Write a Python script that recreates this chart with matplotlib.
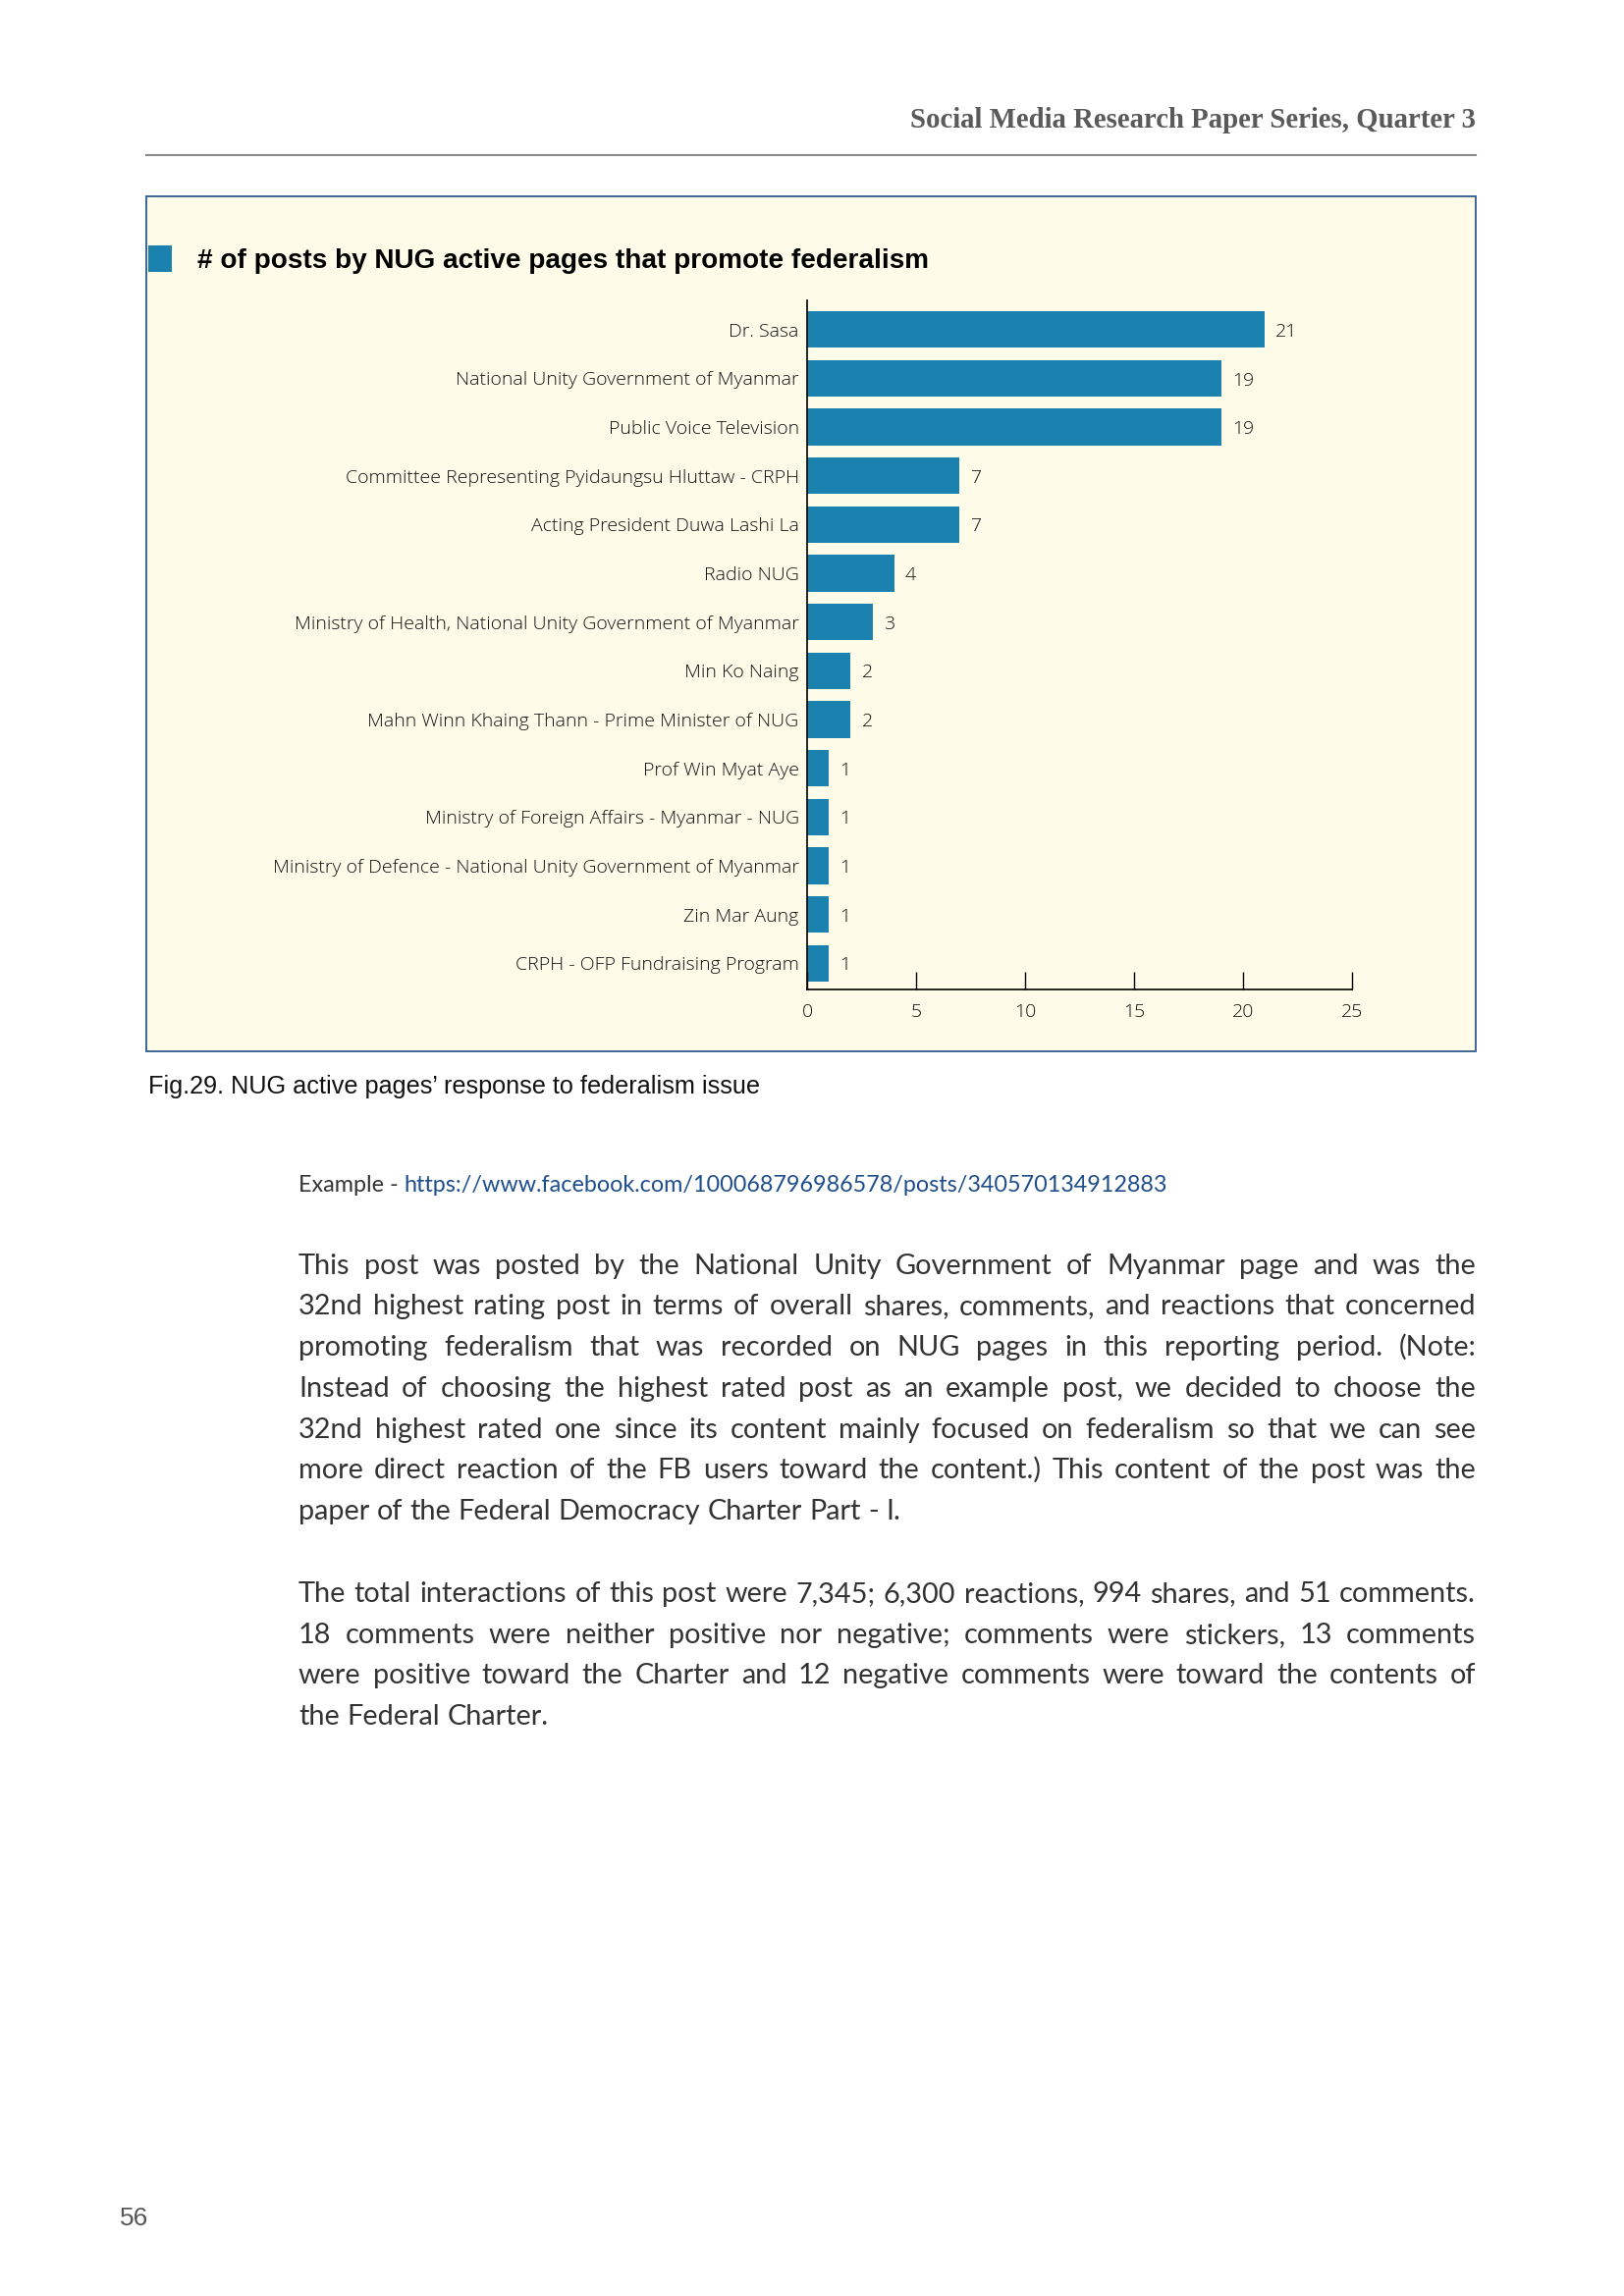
# Page with horizontal bar chart: posts by NUG active pages that promote federalism.
import numpy as np
import matplotlib.pyplot as plt
from matplotlib.patches import Rectangle

# Chart data.
pages = [
  "Dr. Sasa",
  "National Unity Government of Myanmar",
  "Public Voice Television",
  "Committee Representing Pyidaungsu Hluttaw - CRPH",
  "Acting President Duwa Lashi La",
  "Radio NUG",
  "Ministry of Health, National Unity Government of Myanmar",
  "Min Ko Naing",
  "Mahn Winn Khaing Thann - Prime Minister of NUG",
  "Prof Win Myat Aye",
  "Ministry of Foreign Affairs - Myanmar - NUG",
  "Ministry of Defence - National Unity Government of Myanmar",
  "Zin Mar Aung",
  "CRPH - OFP Fundraising Program",
]
posts = [21, 19, 19, 7, 7, 4, 3, 2, 2, 1, 1, 1, 1, 1]
xTicks = [0, 5, 10, 15, 20, 25]

# Page texts.
headerText = "Social Media Research Paper Series, Quarter 3"
chartTitle = "# of posts by NUG active pages that promote federalism"
captionText = "Fig.29. NUG active pages\u2019 response to federalism issue"
exampleLabel = "Example - "
exampleUrl = "https://www.facebook.com/100068796986578/posts/340570134912883"
paragraph1 = [
  "This post was posted by the National Unity Government of Myanmar page and was the",
  "32nd highest rating post in terms of overall shares, comments, and reactions that concerned",
  "promoting federalism that was recorded on NUG pages in this reporting period. (Note:",
  "Instead of choosing the highest rated post as an example post, we decided to choose the",
  "32nd highest rated one since its content mainly focused on federalism so that we can see",
  "more direct reaction of the FB users toward the content.) This content of the post was the",
  "paper of the Federal Democracy Charter Part - I.",
]
paragraph2 = [
  "The total interactions of this post were 7,345; 6,300 reactions, 994 shares, and 51 comments.",
  "18 comments were neither positive nor negative; comments were stickers, 13 comments",
  "were positive toward the Charter and 12 negative comments were toward the contents of",
  "the Federal Charter.",
]
pageNumber = "56"

W, H = 1654, 2339  # Page size in pixels.
fig = plt.figure(figsize=(W / 100, H / 100), dpi=100)
fig.patch.set_facecolor("white")
renderer = fig.canvas.get_renderer()


def fx(x):
  return x / W


def fy(y):
  return 1 - y / H


def TextWidth(s, **kw):
  t = fig.text(0, 0, s, **kw)
  w = t.get_window_extent(renderer).width
  t.remove()
  return w


def FitText(x, y, s, width, **kw):
  # Scale the font size so the text spans the given pixel width.
  w = TextWidth(s, fontsize=20, **kw)
  return fig.text(fx(x), fy(y), s, fontsize=20 * width / w, **kw)


def JustifiedLine(x0, x1, y, line, last=False, **kw):
  words = line.split(" ")
  widths = [TextWidth(w, **kw) for w in words]
  if last or len(words) == 1:
    gap = TextWidth("a a", **kw) - TextWidth("aa", **kw)
  else:
    gap = (x1 - x0 - sum(widths)) / (len(words) - 1)
  x = x0
  for w, wd in zip(words, widths):
    fig.text(fx(x), fy(y), w, va="baseline", **kw)
    x += wd + gap


# Header and rule.
FitText(1503, 122, headerText, 577, ha="right", va="center", family="Liberation Serif",
        fontweight="bold", color="#5a5a5a")
fig.add_artist(plt.Line2D([fx(149), fx(1503)], [fy(158), fy(158)], color="#8a8a8a", lw=1.5))

# Chart box.
fig.add_artist(Rectangle((fx(149), fy(1071)), (1503 - 149) / W, (1071 - 200) / H,
                         facecolor="#fefce9", edgecolor="#2e5a8e", lw=1.3, zorder=0))
fig.add_artist(Rectangle((fx(151), fy(277)), 24 / W, 27 / H, facecolor="#1b81ae",
                         edgecolor="none", zorder=1))
FitText(201, 266, chartTitle, 742, ha="left", va="center", family="Liberation Sans",
        fontweight="bold", color="black")

# Bar chart.
ax = fig.add_axes([822 / W, 1 - 1008 / H, 555 / W, 702 / H])
ax.set_facecolor("none")
yPos = np.arange(len(pages))
ax.barh(yPos, posts, height=0.75, color="#1b81ae")
for i, v in enumerate(posts):
  ax.annotate(str(v), (v, i), xytext=(8, -1.5), textcoords="offset points", va="center",
              ha="left", fontsize=14, family="Open Sans", fontweight="light", color="#111")
ax.set_xlim(0, 25)
ax.set_ylim(len(pages) - 0.46, -0.6)
ax.set_xticks(xTicks)
ax.set_yticks(yPos)
ax.set_yticklabels(pages)
for lbl in ax.get_xticklabels() + ax.get_yticklabels():
  lbl.set_family("Open Sans")
  lbl.set_fontweight("light")
  lbl.set_color("#111")
ax.tick_params(axis="x", direction="in", length=13, width=1, pad=10, labelsize=14)
ax.tick_params(axis="y", length=0, pad=6, labelsize=14)
for s in ["top", "right"]:
  ax.spines[s].set_visible(False)
for s in ["left", "bottom"]:
  ax.spines[s].set_linewidth(1.2)
  ax.spines[s].set_color("black")

# Caption.
FitText(151, 1107, captionText, 620, ha="left", va="center", family="Liberation Sans",
        color="#111")

# Example link line.
bodyFont = dict(family="Lato", fontweight="normal")
exScale = 885 / TextWidth(exampleLabel + exampleUrl, fontsize=20, **bodyFont)
exSize = 20 * exScale
fig.text(fx(304), fy(1208), exampleLabel, fontsize=exSize, va="center", color="#333", **bodyFont)
labelW = TextWidth(exampleLabel, fontsize=exSize, **bodyFont)
fig.text(fx(304 + labelW), fy(1208), exampleUrl, fontsize=exSize, va="center", color="#1f4e8c",
         **bodyFont)

# Body paragraphs, justified between x=304 and x=1503.
natural = max(TextWidth(l, fontsize=20, **bodyFont) for l in paragraph1[:-1] + paragraph2[:-1])
bodySize = 20 * 1190 / natural
p1Y = [1289, 1330, 1372, 1414, 1456, 1497, 1539]
p2Y = [1623, 1665, 1706, 1748]
for lines, ys in [(paragraph1, p1Y), (paragraph2, p2Y)]:
  for k, (line, y) in enumerate(zip(lines, ys)):
    JustifiedLine(304, 1503, y + 9, line, last=(k == len(lines) - 1), fontsize=bodySize,
                  color="#333", **bodyFont)

# Page number.
fig.text(fx(122), fy(2260), pageNumber, fontsize=19, va="center", family="Liberation Sans",
         color="#555")

plt.savefig("out.png", dpi=100)
plt.close()
